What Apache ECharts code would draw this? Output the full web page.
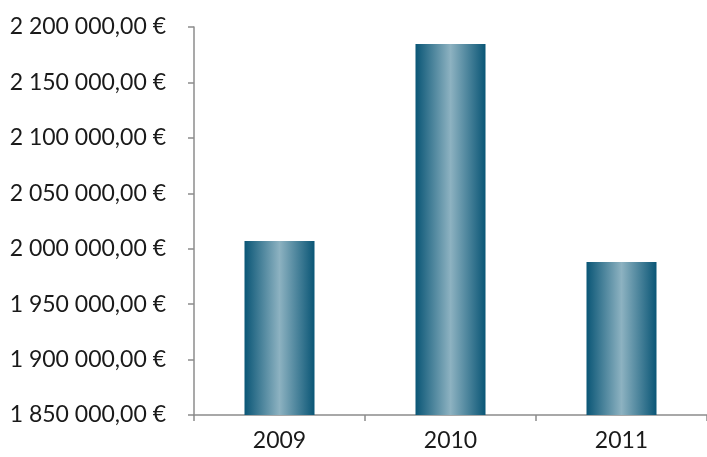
<!DOCTYPE html>
<html>
<head>
<meta charset="utf-8">
<script src="https://cdn.jsdelivr.net/npm/echarts@6/dist/echarts.min.js"></script>
<style>
  html, body { margin: 0; padding: 0; background: #fff; }
  #chart { width: 707px; height: 457px; }
</style>
</head>
<body>
<div id="chart"></div>
<script>
// années et montants
const years = ['2009', '2010', '2011']
const amounts = [2007000, 2184700, 1988000]

const yMin = 1850000
const yMax = 2200000
const yStep = 50000

function formatEuro(v) {
  const s = String(Math.round(v)).replace(/\B(?=(\d{3})+(?!\d))/g, ' ')
  return s + ',00 €'
}

const chart = echarts.init(document.getElementById('chart'))
const textStyle = { fontFamily: 'Lato, "Open Sans", sans-serif', fontSize: 23, color: '#1a1a1a' }

chart.setOption({
  animation: false,
  grid: { left: 194, right: -4, top: 27, bottom: 42 },
  xAxis: {
    type: 'category',
    data: years,
    axisLine: { lineStyle: { color: '#8c8c8c', width: 1.5 } },
    axisTick: { show: true, length: 6, lineStyle: { color: '#8c8c8c', width: 1.5 } },
    axisLabel: Object.assign({ margin: 14 }, textStyle)
  },
  yAxis: {
    type: 'value',
    min: yMin,
    max: yMax,
    interval: yStep,
    splitLine: { show: false },
    axisLine: { show: true, lineStyle: { color: '#8c8c8c', width: 1.5 } },
    axisTick: { show: true, length: 6, lineStyle: { color: '#8c8c8c', width: 1.5 } },
    axisLabel: Object.assign({ margin: 28, formatter: formatEuro }, textStyle)
  },
  series: [{
    type: 'bar',
    data: amounts,
    barWidth: 70,
    itemStyle: {
      color: new echarts.graphic.LinearGradient(0, 0, 1, 0, [
        { offset: 0, color: '#0a5676' },
        { offset: 0.5, color: '#8db2c1' },
        { offset: 1, color: '#0a5676' }
      ])
    }
  }]
})
</script>
</body>
</html>
